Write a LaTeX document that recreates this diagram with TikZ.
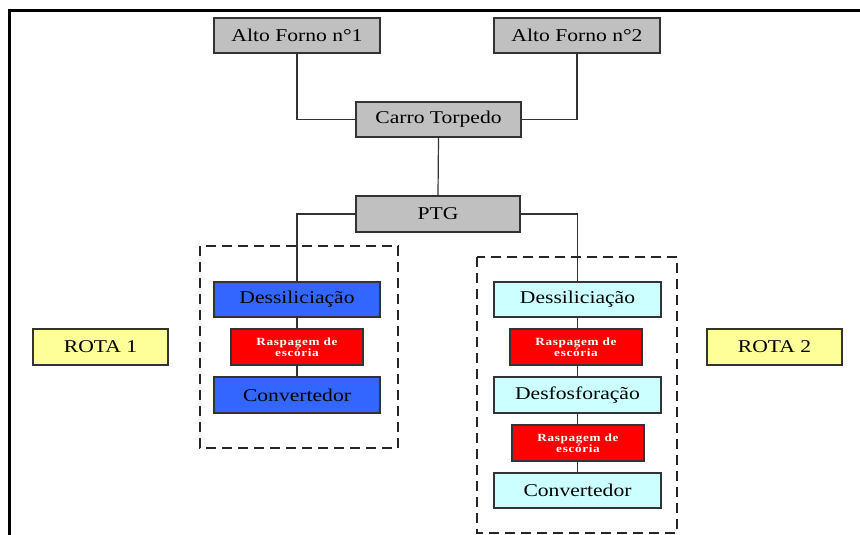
\documentclass[tikz,border=0pt]{standalone}
\usepackage{fontspec}
\setmainfont{Liberation Serif}[FakeStretch=1.2]
\newfontfamily\raspfont{Liberation Serif}[FakeStretch=1.2,LetterSpace=6]
\definecolor{gbox}{HTML}{C0C0C0}
\definecolor{bbox}{HTML}{3366FF}
\definecolor{cbox}{HTML}{CCFFFF}
\definecolor{rbox}{HTML}{FF0000}
\definecolor{ybox}{HTML}{FFFF99}
\definecolor{edge}{HTML}{333333}
\begin{document}
\begin{tikzpicture}[x=1pt,y=-1pt,
  box/.style={draw=edge,line width=1.3pt,rectangle,inner sep=0pt,minimum width=166pt,minimum height=35pt,font=\fontsize{18}{20}\selectfont,text=black},
  graybox/.style={box,fill=gbox},
  bluebox/.style={box,fill=bbox},
  cyanbox/.style={box,fill=cbox},
  redbox/.style={box,fill=rbox,minimum width=132pt,minimum height=36pt,text=white,align=center,font=\raspfont\bfseries\fontsize{11}{11.5}\selectfont},
  yelbox/.style={box,fill=ybox,minimum width=135pt,minimum height=36pt},
  conn/.style={draw=edge,line width=1.2pt},
  dashbox/.style={draw=black!85,line width=2.8pt,dash pattern=on 10pt off 6pt}
]
\useasboundingbox (0,0) rectangle (860,535);
% frame
\draw[line width=3pt,black] (9,535) -- (9,11) -- (860,11);
% nodes
\node[graybox] (af1) at (297,35.5) {Alto Forno n°1};
\node[graybox] (af2) at (577,35.5) {Alto Forno n°2};
\node[graybox,minimum width=165pt] (ct) at (438.5,119.5) {Carro Torpedo};
\node[graybox,minimum width=164pt,minimum height=36pt] (ptg) at (438,214) {PTG};
\node[yelbox] (rota1) at (100.5,347) {ROTA 1};
\node[yelbox] (rota2) at (774.5,347) {ROTA 2};
% rota 1
\node[bluebox] (d1) at (297,299.5) {Dessiliciação};
\node[redbox] (r1) at (297,347) {Raspagem de\\escória};
\node[bluebox,minimum height=36pt] (c1) at (297,395) {Convertedor};
% rota 2
\node[cyanbox,minimum width=167pt] (d2) at (577.5,299.5) {Dessiliciação};
\node[redbox] (r2a) at (576,347) {Raspagem de\\escória};
\node[cyanbox,minimum width=167pt,minimum height=36pt] (f2) at (577.5,395) {Desfosforação};
\node[redbox] (r2b) at (578,443) {Raspagem de\\escória};
\node[cyanbox,minimum width=167pt] (c2) at (577.5,490.5) {Convertedor};
% connectors
\draw[conn] (af1.south) |- (ct.west);
\draw[conn] (af2.south) |- (ct.east);
\draw[conn] (ct.south) -- (ptg.north);
\draw[conn] (ptg.west) -| (d1.north);
\draw[conn] (ptg.east) -| (d2.north);
\draw[conn] (d1.south) -- (d1.south |- r1.north);
\draw[conn] (r1.south) -- (r1.south -| c1.north) -- (c1.north);
\draw[conn] (d2.south) -- (d2.south |- r2a.north);
\draw[conn] (d2.south |- r2a.south) -- (f2.north);
\draw[conn] (f2.south) -- (f2.south |- r2b.north);
\draw[conn] (f2.south |- r2b.south) -- (c2.north);
% dashed route boxes
\draw[dashbox] (200,246) rectangle (398,448);
\draw[dashbox] (477,257) rectangle (677,533);
\end{tikzpicture}
\end{document}
